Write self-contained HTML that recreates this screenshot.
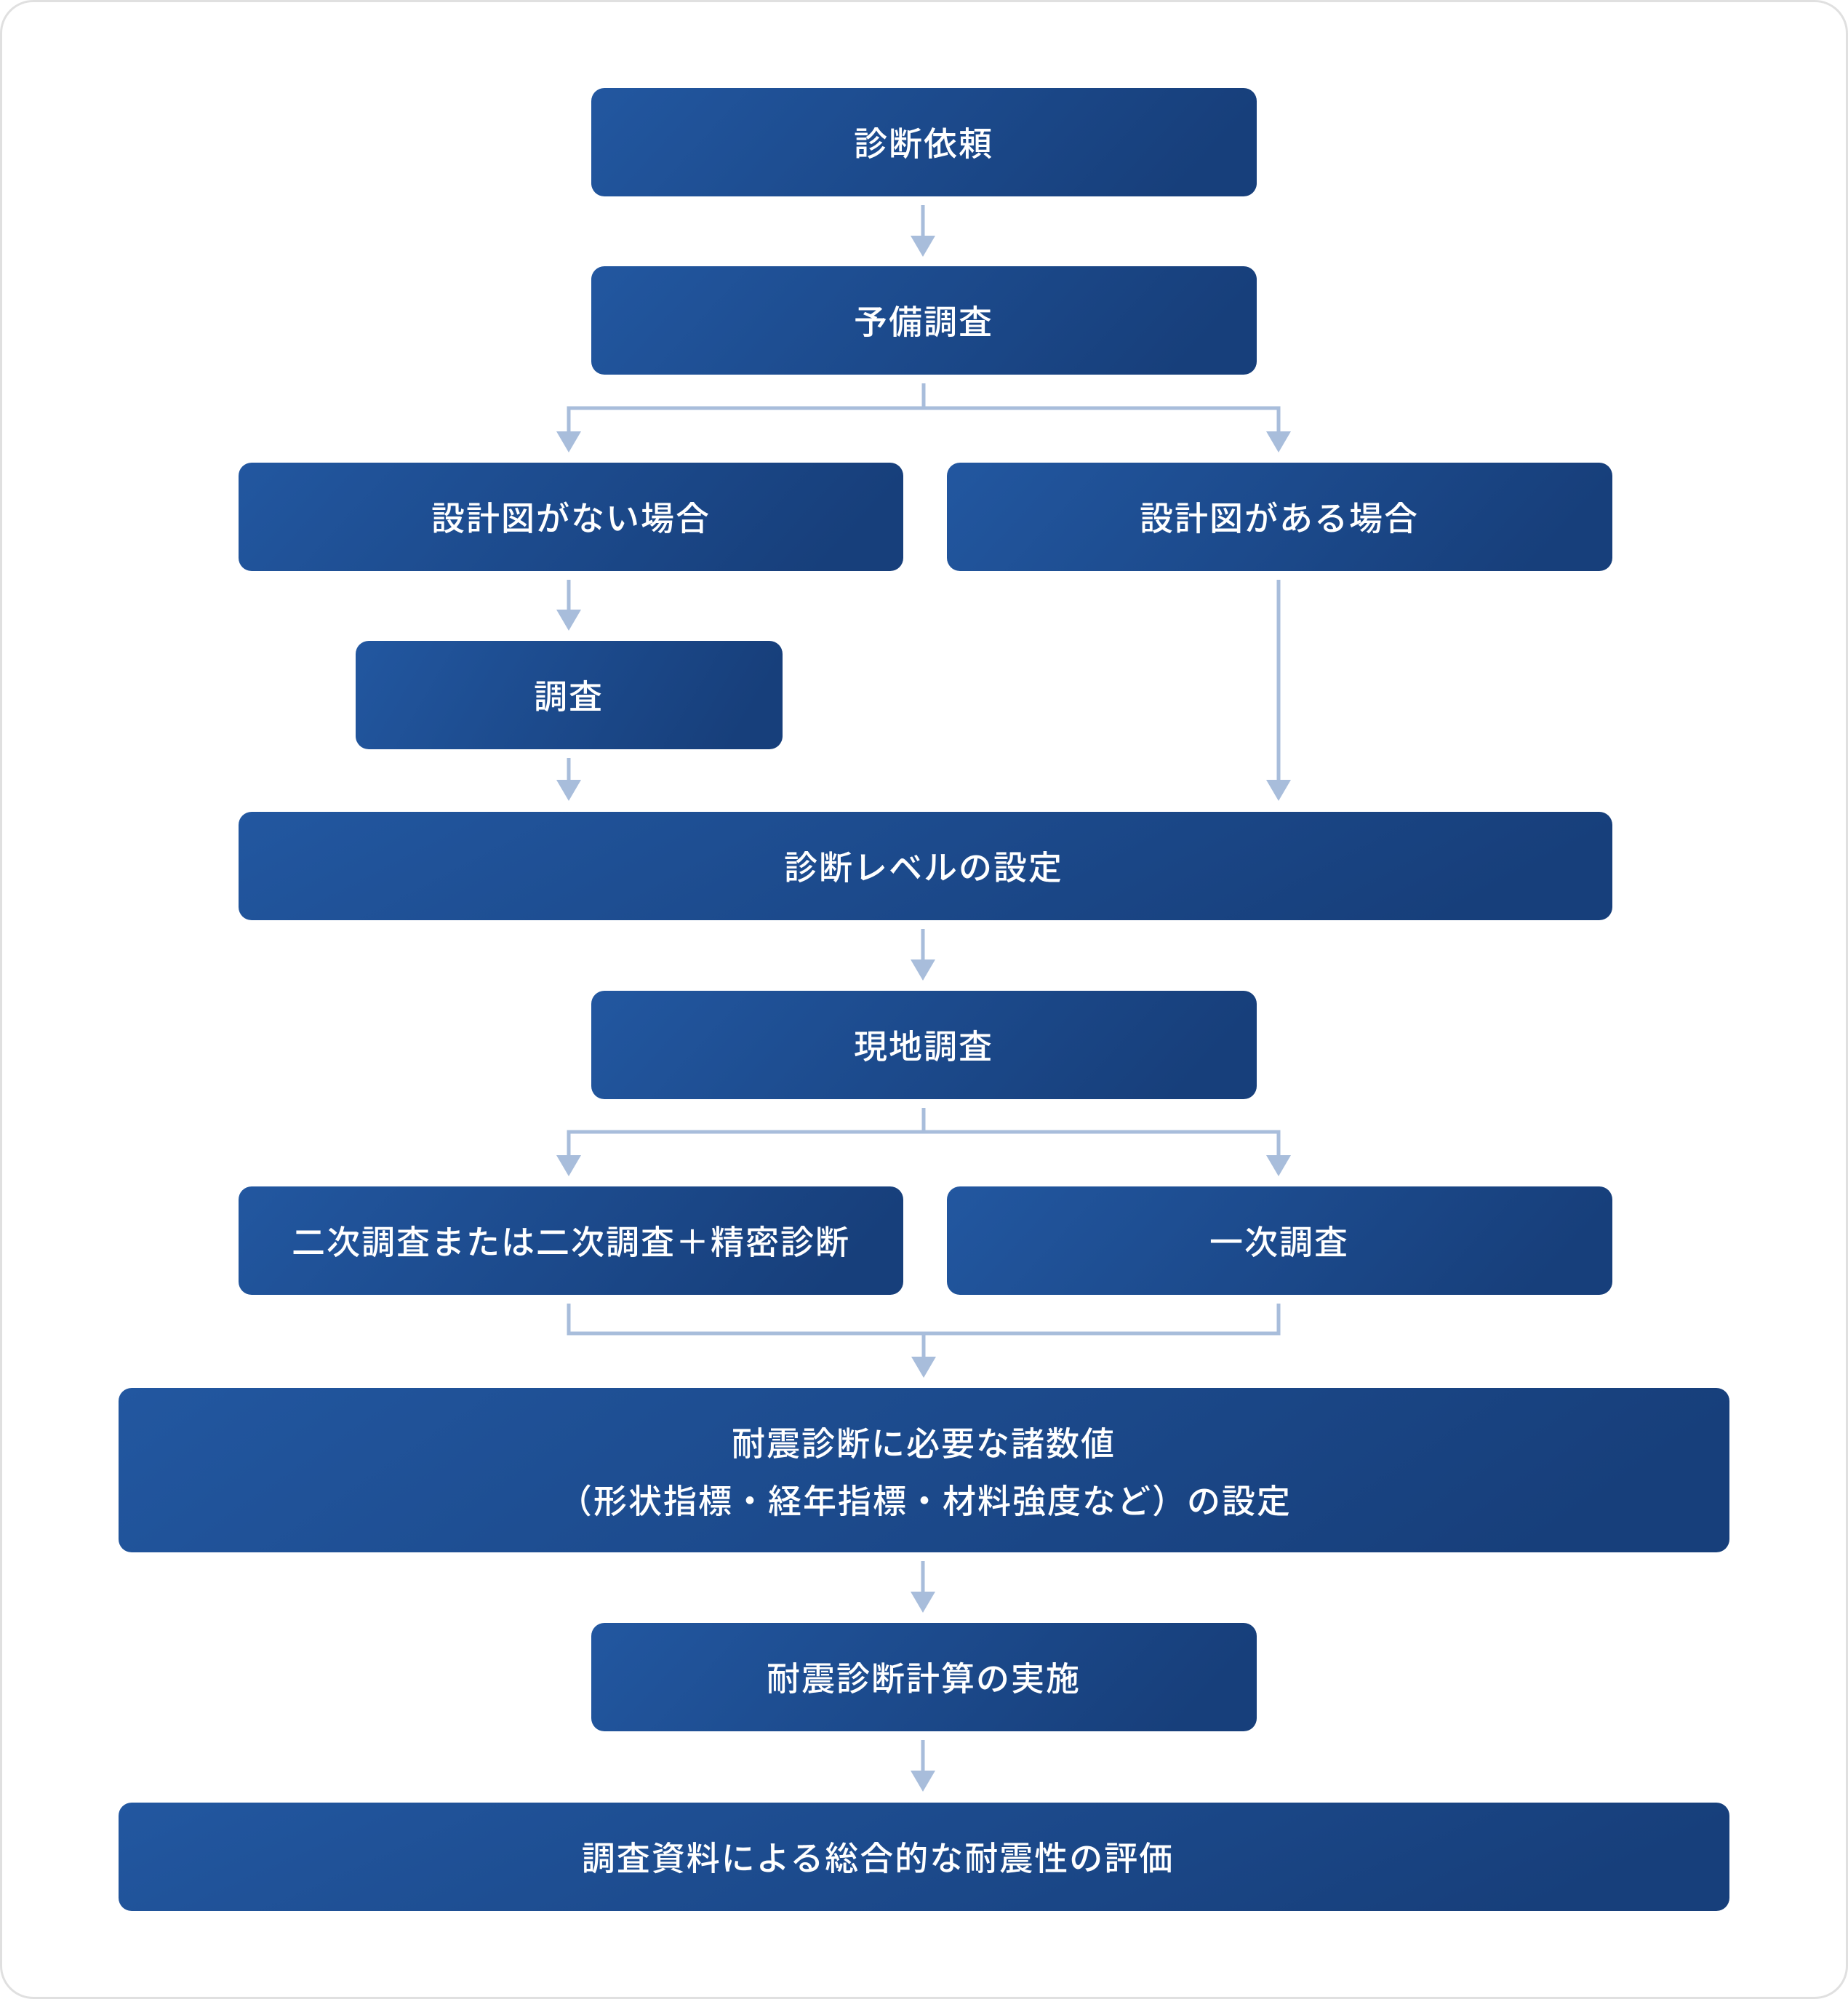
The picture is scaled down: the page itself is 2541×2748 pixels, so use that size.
<!DOCTYPE html>
<html><head><meta charset="utf-8"><style>
html,body{margin:0;padding:0;background:#fff;}
svg{display:block;}
text{font-family:"Liberation Sans","Noto Sans CJK JP",sans-serif;font-size:46px;font-weight:500;fill:#fff;text-anchor:middle;dominant-baseline:central;letter-spacing:2px;}
</style></head><body>
<svg width="2541" height="2748" viewBox="0 0 2541 2748" xmlns="http://www.w3.org/2000/svg">
<defs>
<linearGradient id="g" x1="0" y1="0" x2="1" y2="0.15">
<stop offset="0" stop-color="#2257a0"/><stop offset="1" stop-color="#173f7b"/>
</linearGradient>
</defs>
<rect x="1.5" y="1.5" width="2538" height="2745" rx="44" fill="#fff" stroke="#e0e0e0" stroke-width="3"/>
<g fill="url(#g)">
<rect x="813" y="121" width="915" height="149" rx="18"/>
<rect x="813" y="366" width="915" height="149" rx="18"/>
<rect x="328" y="636" width="914" height="149" rx="18"/>
<rect x="1302" y="636" width="915" height="149" rx="18"/>
<rect x="489" y="881" width="587" height="149" rx="18"/>
<rect x="328" y="1116" width="1889" height="149" rx="18"/>
<rect x="813" y="1362" width="915" height="149" rx="18"/>
<rect x="328" y="1631" width="914" height="149" rx="18"/>
<rect x="1302" y="1631" width="915" height="149" rx="18"/>
<rect x="163" y="1908" width="2215" height="226" rx="18"/>
<rect x="813" y="2231" width="915" height="149" rx="18"/>
<rect x="163" y="2478" width="2215" height="149" rx="18"/>
</g>
<g stroke="#a8bddb" stroke-width="5" fill="none">
<line x1="1269" y1="282" x2="1269" y2="326"/>
<line x1="1270" y1="527" x2="1270" y2="561"/>
<polyline points="782,595 782,561 1758,561 1758,595"/>
<line x1="782" y1="797" x2="782" y2="840"/>
<line x1="1758" y1="797" x2="1758" y2="1074"/>
<line x1="782" y1="1042" x2="782" y2="1074"/>
<line x1="1269" y1="1277" x2="1269" y2="1321"/>
<line x1="1270" y1="1523" x2="1270" y2="1556"/>
<polyline points="782,1590 782,1556 1758,1556 1758,1590"/>
<polyline points="782,1792 782,1833 1758,1833 1758,1792"/>
<line x1="1270" y1="1833" x2="1270" y2="1867"/>
<line x1="1269" y1="2146" x2="1269" y2="2190"/>
<line x1="1269" y1="2392" x2="1269" y2="2436"/>
</g>
<g fill="#a8bddb">
<polygon points="1252,324 1286,324 1269,353"/>
<polygon points="765,593 799,593 782,622"/>
<polygon points="1741,593 1775,593 1758,622"/>
<polygon points="765,838 799,838 782,867"/>
<polygon points="1741,1072 1775,1072 1758,1101"/>
<polygon points="765,1072 799,1072 782,1101"/>
<polygon points="1252,1319 1286,1319 1269,1348"/>
<polygon points="765,1588 799,1588 782,1617"/>
<polygon points="1741,1588 1775,1588 1758,1617"/>
<polygon points="1253,1865 1287,1865 1270,1894"/>
<polygon points="1252,2188 1286,2188 1269,2217"/>
<polygon points="1252,2434 1286,2434 1269,2463"/>
</g>
<text x="1270" y="198">診断依頼</text>
<text x="1270" y="443">予備調査</text>
<text x="785" y="713">設計図がない場合</text>
<text x="1759" y="713">設計図がある場合</text>
<text x="782" y="958">調査</text>
<text x="1270" y="1193">診断レベルの設定</text>
<text x="1270" y="1439">現地調査</text>
<text x="785" y="1708">二次調査または二次調査＋精密診断</text>
<text x="1759" y="1708">一次調査</text>
<text x="1270" y="1985">耐震診断に必要な諸数値</text>
<text x="1272" y="2064">（形状指標・経年指標・材料強度など）の設定</text>
<text x="1270" y="2308">耐震診断計算の実施</text>
<text x="1207" y="2555">調査資料による総合的な耐震性の評価</text>
</svg>
</body></html>
